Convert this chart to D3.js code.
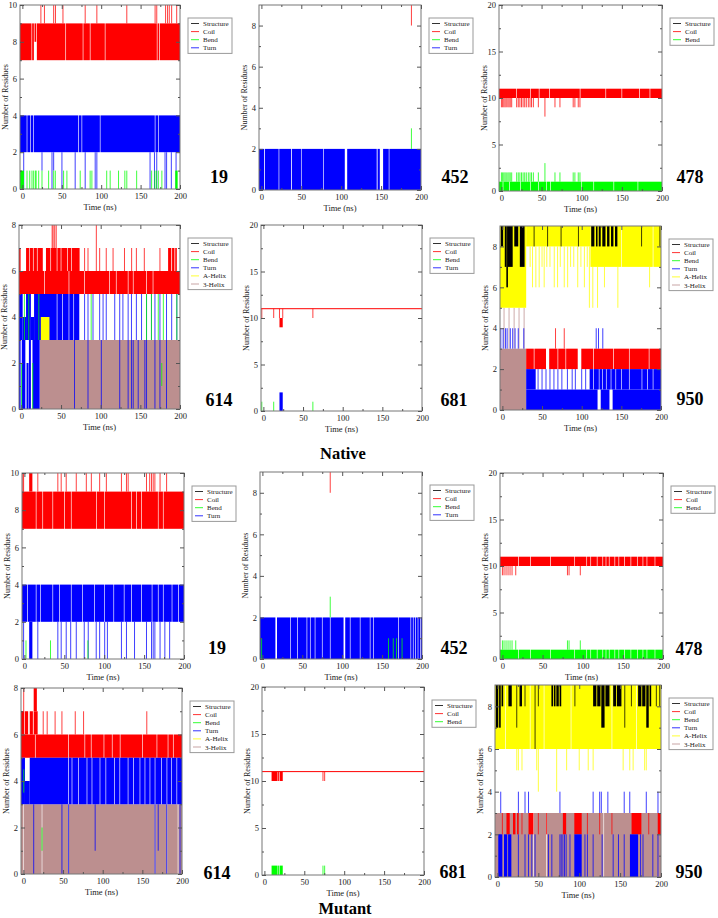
<!DOCTYPE html>
<html><head><meta charset="utf-8">
<script src="https://cdn.jsdelivr.net/npm/d3@7"></script>
<style>
body{margin:0;background:#fff}
svg{display:block}
text{font-family:"Liberation Serif","Times New Roman",serif}
</style>
</head><body>
<svg id="chart" width="718" height="918"></svg>
<script>
// ---------- categories / legend ----------
const seriesNames  = ["Structure","Coil","Bend","Turn","A-Helix","3-Helix"];
const seriesColors = ["#000000","#ff0000","#00ff00","#0000ff","#ffff00","#bc8f8f"];
const drawOrder    = ["3-Helix","Coil","Turn","Bend","A-Helix","Structure"];
const panelIds     = ["19","452","478","614","681","950"];
const groupLabels  = ["Native","Mutant"];
const xTicks       = [0,50,100,150,200];
const xMinorTicks  = [25,75,125,175];
const yMaxes       = [10,9,20,8,20,9];
const yTickSteps   = [2,2,5,2,5,2];
const legendCountsNative = [4,4,3,6,4,6];
const legendCountsMutant = [4,4,3,6,3,6];

// ---------- data: [t0 (ns), t1 (ns), low, high]; t0==t1 is a single-frame excursion ----------
// Native 19
const nat19Coil = [[-3,11.6,7,9],[12.4,14.6,7,9],[15.4,17.6,8,9],[18.4,54.6,7,9],[55.4,76.6,7,9],[77.4,85.6,7,9],[86.4,104.6,7,9],[105.4,170.6,7,9],[171.4,173.6,7,9],[174.4,200,7,9],
 [23.5,23.5,9,10],[28,28,9,10],[39.7,39.7,9,10],[42,42,9,10],[51.5,51.5,9,10],[79.7,79.7,9,10],[94.5,94.5,9,10],[132.5,132.5,9,10],[168.4,168.4,9,10],[170.5,170.5,9,10],[181.7,181.7,9,10],[184.2,184.2,9,10],[186.4,186.4,9,10],[189.4,189.4,9,10],[195.8,195.8,9,10]];
const nat19Turn = [[-3,5.5,2,4],[6.3,9.7,2,4],[10.5,13.9,2,4],[14.7,70.9,2,4],[71.7,75.1,2,4],[75.9,98.3,2,4],[99.1,168,2,4],[168.8,172.1,2,4],[172.9,200,2,4],
 [1.7,1.7,0,2],[79.7,79.7,0,2],[92.4,92.4,0,2],[94.5,94.5,0,2],[162,162,0,2],[181,181,0,2],[183,183,0,2],[195,195,0,2],
 [24.9,24.9,1,2],[37.6,37.6,0,2],[39.7,39.7,1,2],[50.2,50.2,0,2],[67,67,0,2],[167.6,167.6,0,2],[170.5,170.5,0,2],[189,189,0,2]];
const nat19Bend = [[-3,2,0,1],[5.9,5.9,0,1],[9.3,9.3,0,1],[12.2,12.2,0,1],[14.3,14.3,0,1],[16.5,16.5,0,1],[17.5,17.5,0,1],[20.7,20.7,0,1],[24.9,24.9,0,1],[33.3,33.3,0,1],[39.7,39.7,0,1],[41.8,41.8,0,1],[52.3,52.3,0,1],[56.5,56.5,0,1],[73.4,73.4,0,1],[86,86,0,1],[88.2,88.2,0,1],[107,107,0,1],[111.4,111.4,0,1],[122,122,0,1],[130,130,0,1],[132.5,132.5,0,1],[145,145,0,1],[164,164,0,1],[168,168,0,1],[170,170,0,1],[172.5,172.5,0,1],[177,177,0,1],[194,197,0,1]];
// Native 452
const nat452Turn = [[-3,3.3,0,2],[4.3,21.6,0,2],[22.4,37.2,0,2],[38.2,49.6,0,2],[50.4,77.6,0,2],[78.4,104.5,0,2],[107.5,144.5,0,2],[145.6,148.4,0,2],[152.5,159.6,0,2],[160.4,200,0,2]];
const nat452Coil = [[188,188,8,9]];
const nat452Bend = [[188,188,2,3]];
// Native 478
const nat478Coil = [[-3,18.6,10,11],[19.4,35.6,10,11],[36.4,46.6,10,11],[47.4,59.6,10,11],[60.4,97.6,10,11],[98.4,129.6,10,11],[130.4,149.6,10,11],[150.4,171.6,10,11],[172.4,184.6,10,11],[185.4,200,10,11],
 [0,0,9,10],[1.5,1.5,9,10],[3,3,9,10],[4.5,4.5,9,10],[6,6,9,10],[8,8,9,10],[9.5,9.5,9,10],[11,11,9,10],[12.8,12.8,9,10],[19,19,9,10],[21,21,9,10],[23,23,9,10],[25,25,9,10],[27,27,9,10],[29,29,9,10],[31,31,9,10],[33.5,33.5,9,10],[35.6,35.6,9,10],[37.5,37.5,9,10],[39.8,39.8,9,10],[46,46,9,10],[54.2,54.2,8,10],[66.7,66.7,9,10],[72.9,72.9,9,10],[89.4,89.4,9,10],[91.5,91.5,9,10],[95.7,95.7,9,10],[97.8,97.8,9,10]];
const nat478Bend = [[-3,1.6,0,1],[2.4,9.6,0,1],[10.4,23.6,0,1],[24.4,35.6,0,1],[36.4,45.6,0,1],[46.4,55.6,0,1],[56.4,60.6,0,1],[61.4,99.6,0,1],[100.4,114.6,0,1],[115.4,139.6,0,1],[140.4,169.6,0,1],[170.4,200,0,1],
 [0,0,1,2],[1.5,1.5,1,2],[3,3,1,2],[4.5,4.5,1,2],[6,6,1,2],[8,8,1,2],[9.5,9.5,1,2],[11,11,1,2],[12.8,12.8,1,2],[19,19,1,2],[21,21,1,2],[23,23,1,2],[25,25,1,2],[27,27,1,2],[29,29,1,2],[31,31,1,2],[33.5,33.5,1,2],[35.6,35.6,1,2],[37.5,37.5,1,2],[39.8,39.8,1,2],[46,46,1,2],[54.2,54.2,1,3],[66.7,66.7,1,2],[72.9,72.9,1,2],[89.4,89.4,1,2],[91.5,91.5,1,2],[95.7,95.7,1,2],[97.8,97.8,1,2]];
// Native 614
const nat614Helix3 = [[23,200,0,3],[3,3,0,3],[8,8,0,2],[17,17,0,3]];
const nat614Coil = [[-3,28.6,5,6],[29.4,59.6,5,6],[60.4,79.3,5,6],[80.1,110.6,5,6],[111.4,119.2,5,6],[120,134.2,5,6],[135,140.6,5,6],[141.4,157.4,5,6],[158.2,165.6,5,6],[166.4,200,5,6],
 [-3,-1,6,7],[5.9,9.6,6,7],[10.4,14.6,6,7],[15.4,19.6,6,7],[20.4,27,6,7],[31,36.6,6,7],[37.4,44.6,6,7],[45.4,49.6,6,7],[50.4,57.6,6,7],[58.4,62.6,6,7],[63.4,73.4,6,7],
 [79.7,79.7,6,7],[84,84,6,7],[98.7,98.7,6,7],[107,107,6,7],[115.6,115.6,6,7],[130,130,6,7],[139,139,6,7],[145,145,6,7],[155,155,6,7],[174.7,174.7,6,7],[185,189,6,7],[190,193,6,7],[194,196,6,7],
 [38.8,38.8,7,8],[40,40,7,8],[42,42,7,8],[43.9,43.9,7,8],[94.5,94.5,6,8]];
const nat614Turn = [[-3,-1,0,3],[0.5,5,0,3],[6.5,9,0,2],[9.5,12,0,3],[14,23,0,3],
 [-3,1.6,3,5],[1.6,5.9,3,4],[5.9,12,3,5],[12,16,3,4],[16,44.6,3,5],[45.4,51.6,3,5],[52.4,59.6,3,5],[60.4,65.6,3,5],[66.4,73,3,5],
 [79.7,79.7,3,5],[84,84,3,5],[90.3,90.3,3,5],[98.7,98.7,3,5],[103,103,3,5],[107,107,3,5],[117.7,117.7,3,5],[124,124,3,5],[128,128,3,5],[134.6,134.6,3,5],[138.8,138.8,3,5],[145,145,3,5],[151.5,151.5,3,5],[157.8,157.8,3,5],[164,164,3,5],[168.4,168.4,3,5],[174.7,174.7,3,5],[183,183,3,5],[189.5,189.5,3,5],[196,196,3,5],
 [67,67,0,3],[84,84,0,3],[100.8,100.8,0,3],[124,124,0,3],[134.6,134.6,0,3],[138.8,138.8,0,3],[141,141,0,3],[147.3,147.3,0,3],[155.7,155.7,0,3],[157.8,157.8,0,3],[168.4,168.4,0,3],[174.7,174.7,0,3],[183,183,0,3]];
const nat614Bend = [[3.8,3.8,3,5],[9.3,9.3,3,5],[22,22,3,5],[88,88,3,5],[157.8,157.8,3,5],[164,164,3,5],[172.6,172.6,3,5],[179,179,3,5],[196,196,3,5],[0.3,0.3,0,2],[14.3,14.3,0,2],[177,177,1,2]];
const nat614Helix = [[24.5,35.4,3,4]];
// Native 681
const nat681Coil = [[-3,200,11,11],[-2,-2,10,11],[13,13,10,11],[20.3,20.3,10,11],[24.4,24.4,10,11],[20.3,24.4,9,10],[62.4,62.4,10,11]];
const nat681Turn = [[20.3,24.4,0,2]];
const nat681Bend = [[-2,-2,0,1],[13,13,0,1],[62.4,62.4,0,1]];
// Native 950
const nat950Helix3 = [[-3,30,0,3],[2.1,2.1,3,5],[8.4,8.4,3,5],[14.8,14.8,3,5],[21,21,3,5],[27.4,27.4,3,5]];
const nat950Coil = [[30,39.6,2,3],[40.4,55,2,3],[59,69.6,2,3],[70.4,79.6,2,3],[80.4,95,2,3],[99.5,114.6,2,3],[115.4,139.6,2,3],[140.4,159.6,2,3],[160.4,184.6,2,3],[185.4,200,2,3],[67,67,3,4],[78,78,3,4]];
const nat950Turn = [[30,120,0,1],[124,135,0,1],[139,200,0,1],[30,42,1,2],[45,45,1,2],[50,50,1,2],[55,55,1,2],[60,60,1,2],[65,65,1,2],[70,70,1,2],[75,75,1,2],[82,82,1,2],[88,88,1,2],[92,92,1,2],[100,100,1,2],[105,105,1,2],
 [110,114.6,1,2],[115.4,121.6,1,2],[122.4,125.6,1,2],[126.4,130.6,1,2],[131.4,136.6,1,2],[137.4,142.6,1,2],[143.4,149.6,1,2],[150.4,159.6,1,2],[160.4,175.6,1,2],[176.4,182.6,1,2],[183.4,189.6,1,2],[190.4,200,1,2],
 [-2,-2,3,4],[1,1,3,4],[4,4,3,4],[6,6,3,4],[10,10,3,4],[13,13,3,4],[16,16,3,4],[20,20,3,4],[27,27,3,4],[118.3,118.3,3,4],[121.2,121.2,3,4],[126.6,126.6,3,4]];
const nat950Helix = [[-3,30,5,9],[30,111,8,9],[111,149.6,7,9],[150.4,189.6,7,9],[190.4,200,7,9],
 [35,35,7,8],[38,38,6,8],[42.2,42.2,6,8],[46.4,46.4,6,8],[50,50,7,8],[52.7,52.7,6,8],[56,56,7,8],[60,60,7,8],[65.4,65.4,6,8],[69.6,69.6,6,8],[73,73,7,8],[78,78,6,8],[82.3,82.3,6,8],[86,86,7,8],[90,90,7,8],[95,95,6,8],[99,99,7,8],[103.4,103.4,6,8],[107,107,7,8],
 [109.7,109.7,5,8],[114,114,5,7],[120,120,5,7],[128.7,128.7,6,7],[145.6,145.6,5,7],[185.6,185.6,6,7]];
const nat950Struct = [[-2,1,8,9],[3,5,7,9],[5,7,6,9],[7,13,7,9],[15,20,8,9],[22,28,7,9],
 [112,116,8,9],[118,120,8,9],[121.5,124,8,9],[126,130,8,9],[132,135,8,9],[137,140,8,9],[142,145,8,9],
 [40,40,8,9],[57,57,8,9],[74,74,8,9],[95.9,95.9,8,9],[175.5,175.5,8,9],[198.6,198.6,8,9]];
// Mutant 19
const mut19Coil = [[-3,14.3,7,9],[15.1,22.6,7,9],[23.4,35.2,7,9],[36,49.9,7,9],[50.7,58.3,7,9],[59.1,89.8,7,9],[90.6,100.2,7,9],[101,133.8,7,9],[134.6,140.1,7,9],[140.9,146.4,7,9],[147.2,167.3,7,9],[168.1,173.6,7,9],[174.4,200,7,9],
 [6,10,9,10],[-2,-2,9,10],[-1,-1,9,10],[16.8,16.8,9,10],[41.9,41.9,9,10],[46.1,46.1,9,10],[52.4,52.4,9,10],[65,65,9,10],[77.6,77.6,9,10],[83.9,83.9,9,10],[94.3,94.3,9,10],[102.7,102.7,9,10],[121.6,121.6,9,10],[127.9,127.9,9,10],[130,130,9,10],[153,153,9,10],[157,157,9,10],[159.3,159.3,9,10],[161.4,161.4,9,10],[163.5,163.5,9,10],[170,170,9,10],[178.2,178.2,9,10]];
const mut19Turn = [[-3,3.6,2,4],[4.4,14.3,2,4],[15.1,19.6,2,4],[20.4,35.2,2,4],[36,43.6,2,4],[44.4,58.3,2,4],[59.1,72.6,2,4],[73.4,87.6,2,4],[88.4,100.2,2,4],[101,111.6,2,4],[112.4,124.6,2,4],[125.4,133.8,2,4],[134.6,146.4,2,4],[147.2,159.6,2,4],[160.4,167.3,2,4],[168.1,173.6,2,4],[174.4,184.6,2,4],[185.4,192.6,2,4],[193.4,200,2,4],
 [6,10,0,2],[-1,-1,0,2],[65,65,0,2],[100.6,100.6,0,2],[127.9,127.9,0,2],[159.3,159.3,0,2],[161.4,161.4,0,2],
 [16.8,16.8,0,2],[41.9,41.9,0,2],[46.1,46.1,0,2],[52.4,52.4,0,2],[58,58,0,2],[75,75,0,2],[80,80,0,2],[90,90,0,2],[94.3,94.3,0,2],[104,104,0,2],[121.6,121.6,0,2],[138,138,0,2],[153,153,0,2],[163.5,163.5,0,2],[170,170,0,2],[176,176,0,2],[182,182,0,2]];
const mut19Bend = [[2,2,0,1],[32.7,32.7,0,1],[79.6,79.6,0,1]];
// Mutant 452
const mut452Turn = [[-3,16.3,0,2],[18.3,34.6,0,2],[35.4,43.6,0,2],[44.4,55.4,0,2],[56.2,59.6,0,2],[60.4,65.6,0,2],[66.4,74.6,0,2],[75.4,84.6,0,2],[85.4,101.7,0,2],[103.8,109.6,0,2],[110.4,122.1,0,2],[122.9,134.6,0,2],[135.4,138.6,0,2],[139.4,170,0,2],[170.8,185.6,0,2],[186.4,188.6,0,2],[189.4,191.6,0,2],[192.4,194.6,0,2],[195.4,197.6,0,2],[198.4,200,0,2]];
const mut452Coil = [[85,85,8,9]];
const mut452Bend = [[85,85,2,3],[-1,-1,0,1],[158,158,0,1],[164,164,0,1],[168,168,0,1],[175,175,0,1]];
// Mutant 478
const mut478Coil = [[-3,19.6,10,11],[20.4,34.6,10,11],[35.4,59.6,10,11],[60.4,89.6,10,11],[90.4,104.6,10,11],[105.4,109.6,10,11],[110.4,117.6,10,11],[118.4,124.6,10,11],[125.4,128.6,10,11],[129.4,132.6,10,11],[133.4,139.6,10,11],[140.4,144.6,10,11],[145.4,151.6,10,11],[152.4,159.6,10,11],[160.4,167.6,10,11],[168.4,174.6,10,11],[175.4,179.6,10,11],[180.4,189.6,10,11],[190.4,200,10,11],
 [0,0,9,10],[2,2,9,10],[4.5,4.5,9,10],[7,7,9,10],[9.5,9.5,9,10],[12,12,9,10],[16.6,16.6,9,10],[81,81,9,10],[83,83,9,10],[97,97,9,10]];
const mut478Bend = [[-3,19.6,0,1],[20.4,34.6,0,1],[35.4,59.6,0,1],[60.4,89.6,0,1],[90.4,104.6,0,1],[105.4,109.6,0,1],[110.4,117.6,0,1],[118.4,124.6,0,1],[125.4,128.6,0,1],[129.4,132.6,0,1],[133.4,139.6,0,1],[140.4,144.6,0,1],[145.4,151.6,0,1],[152.4,159.6,0,1],[160.4,167.6,0,1],[168.4,174.6,0,1],[175.4,179.6,0,1],[180.4,189.6,0,1],[190.4,200,0,1],
 [0,0,1,2],[2,2,1,2],[4.5,4.5,1,2],[7,7,1,2],[9.5,9.5,1,2],[12,12,1,2],[16.6,16.6,1,2],[81,81,1,2],[83,83,1,2],[97,97,1,2]];
// Mutant 614
const mut614Helix3 = [[-3,0,0,3],[0.8,23.1,0,3],[23.9,56.6,0,3],[57.4,165.6,0,3],[166.4,180.6,0,3],[181.4,194.6,0,3],[195.4,200,0,3]];
const mut614Coil = [[-3,14.6,5,6],[15.4,56.6,5,6],[57.4,77.1,5,6],[77.9,85.1,5,6],[85.9,101.2,5,6],[102,111.6,5,6],[112.4,121.6,5,6],[122.4,149.6,5,6],[150.4,168,5,6],[168.8,182,5,6],[182.8,188.6,5,6],[189.4,200,5,6],
 [-3,1,6,7],[2,6,6,7],[8,12,6,7],[13,18,6,7],[25,25,6,7],[30,30,6,7],[40,40,6,7],[48.6,48.6,6,7],[65.4,65.4,6,7],[75.9,75.9,6,7],[155.6,155.6,6,7],
 [0.4,0.4,6,8],[13,17,7,8]];
const mut614Turn = [[-3,2,3,5],[2,8,3,4],[8,56.6,3,5],[57.4,60.9,3,5],[61.7,69.3,3,5],[70.1,79.8,3,5],[80.6,86.1,3,5],[86.9,96.2,3,5],[97,103.6,3,5],[104.4,114.6,3,5],[115.4,121.2,3,5],[122,131.6,3,5],[132.4,138.4,3,5],[139.2,146.6,3,5],[147.4,152.9,3,5],[153.7,159.2,3,5],[160,165.6,3,5],[166.4,173.6,3,5],[174.4,180.6,3,5],[181.4,186.6,3,5],[187.4,193.1,3,5],[193.9,200,3,5],
 [13,13,0,3],[48.6,48.6,0,3],[57,57,0,3],[90.5,90.5,1,3],[166,166,0,3],[170,170,1,3],[180.7,180.7,0,3],[197.5,197.5,0,3]];
const mut614Bend = [[0.5,0.5,3.5,4.5],[23.5,23.5,1,2]];
// Mutant 681
const mut681Coil = [[-3,200,11,11],[9,16.5,10,11],[17.2,18.8,10,11],[19.5,23,10,11],[73.4,73.4,10,11],[75.5,75.5,10,11]];
const mut681Bend = [[9,16.5,0,1],[17.2,18.8,0,1],[19.5,23,0,1],[73.4,73.4,0,1],[75.5,75.5,0,1]];
// Mutant 950
const mut950Helix3 = [[-3,43.6,0,3],[44.4,59.6,0,3],[60.4,129.6,0,3],[130.4,200,0,3]];
const mut950Helix = [[-3,9.6,6,9],[10.4,39.6,6,9],[40.4,56.6,6,9],[57.4,89.6,6,9],[90.4,139.6,6,9],[140.4,169.6,6,9],[170.4,200,6,9],
 [23.6,23.6,5,6],[25.6,25.6,5,6],[30,30,5,6],[48,48,5,6],[84.6,84.6,5,6],[100,100,5,6],[111,111,5,6],[117,117,5,6],[153.7,153.7,5,6],[161.8,161.8,5,6],[165.9,165.9,5,6],[180,180,5,6],[182,182,5,6],[50,50,4,6],[72.4,72.4,4,6]];
const mut950Struct = [[-2,1,7,9],[2,4,7,9],[5,7,8,9],[13.4,17.5,8,9],[23.6,23.6,7,9],[27,30,8,9],[33.7,33.7,8,9],[46,46,6,9],[50,50,8,9],
 [66,68,8,9],[69,71,8,9],[72,75,8,9],[76,78,8,9],[94.7,94.7,8,9],[117,121,8,9],[122,126,8,9],[127,131,7,9],[132,137,8,9],[141.5,145,8,9],[146,151.6,8,9],[155.7,155.7,7,9],[163.8,163.8,8,9],[172,176,8,9],[177,181,8,9],[182,185,7,9],[186,188,8,9],[194.3,194.3,8,9],[198.4,198.4,8,9]];
const mut950Coil = [[11,15,2,3],[19,22,2,3],[24,26,2,3],[38,44,2,3],[80,84,2,3],[94,103,2,3],[164,176,2,3],[196,200,2,3],[6,6,2,3],[30,30,2,3],[50,50,2,3],[60,60,2,3],[110,110,2,3],[125,125,2,3],[140,140,2,3],[185,185,2,3]];
const mut950Turn = [[1,6,0,2],[8,12,0,2],[13,17,0,2],[94,103,0,2],[162,172,0,2],
 [3,3,0,2],[25.6,25.6,0,2],[33.7,33.7,0,2],[38,38,0,2],[42,42,0,2],[46,46,0,2],[62.4,62.4,0,2],[66.5,66.5,0,2],[76.4,76.4,0,2],[78,78,0,2],[80,80,0,2],[82,82,0,2],[84,84,0,2],[88.7,88.7,0,2],[107,107,0,2],[110,110,0,2],[117,117,0,2],[128,128,0,2],[141.5,141.5,0,2],[148,148,0,2],[155,155,0,2],[175,175,0,2],[178,178,0,2],[190,190,0,2],[196.3,196.3,0,2],
 [4,4,3,4],[25.6,25.6,3,4],[33.7,33.7,3,4],[38,38,3,4],[76.4,76.4,3,4],[117,117,3,4],[125,125,3,4],[127,127,3,4],[135,135,3,4],[155,155,3,4],[161.8,161.8,3,4],[182,182,3,4],[196.3,196.3,3,4]];

// ---------- table built from the arrays ----------
const panels = [
 {id:panelIds[0], yMax:yMaxes[0], step:yTickSteps[0], nLeg:legendCountsNative[0], s:{"Coil":nat19Coil,"Turn":nat19Turn,"Bend":nat19Bend}},
 {id:panelIds[1], yMax:yMaxes[1], step:yTickSteps[1], nLeg:legendCountsNative[1], s:{"Coil":nat452Coil,"Turn":nat452Turn,"Bend":nat452Bend}},
 {id:panelIds[2], yMax:yMaxes[2], step:yTickSteps[2], nLeg:legendCountsNative[2], s:{"Coil":nat478Coil,"Bend":nat478Bend}},
 {id:panelIds[3], yMax:yMaxes[3], step:yTickSteps[3], nLeg:legendCountsNative[3], s:{"3-Helix":nat614Helix3,"Coil":nat614Coil,"Turn":nat614Turn,"Bend":nat614Bend,"A-Helix":nat614Helix}},
 {id:panelIds[4], yMax:yMaxes[4], step:yTickSteps[4], nLeg:legendCountsNative[4], s:{"Coil":nat681Coil,"Turn":nat681Turn,"Bend":nat681Bend}},
 {id:panelIds[5], yMax:yMaxes[5], step:yTickSteps[5], nLeg:legendCountsNative[5], s:{"3-Helix":nat950Helix3,"Coil":nat950Coil,"Turn":nat950Turn,"A-Helix":nat950Helix,"Structure":nat950Struct}},
 {id:panelIds[0], yMax:yMaxes[0], step:yTickSteps[0], nLeg:legendCountsMutant[0], s:{"Coil":mut19Coil,"Turn":mut19Turn,"Bend":mut19Bend}},
 {id:panelIds[1], yMax:yMaxes[1], step:yTickSteps[1], nLeg:legendCountsMutant[1], s:{"Coil":mut452Coil,"Turn":mut452Turn,"Bend":mut452Bend}},
 {id:panelIds[2], yMax:yMaxes[2], step:yTickSteps[2], nLeg:legendCountsMutant[2], s:{"Coil":mut478Coil,"Bend":mut478Bend}},
 {id:panelIds[3], yMax:yMaxes[3], step:yTickSteps[3], nLeg:legendCountsMutant[3], s:{"3-Helix":mut614Helix3,"Coil":mut614Coil,"Turn":mut614Turn,"Bend":mut614Bend}},
 {id:panelIds[4], yMax:yMaxes[4], step:yTickSteps[4], nLeg:legendCountsMutant[4], s:{"Coil":mut681Coil,"Bend":mut681Bend}},
 {id:panelIds[5], yMax:yMaxes[5], step:yTickSteps[5], nLeg:legendCountsMutant[5], s:{"3-Helix":mut950Helix3,"Coil":mut950Coil,"Turn":mut950Turn,"A-Helix":mut950Helix,"Structure":mut950Struct}}
];

// ---------- layout ----------
const boxes = [
 [20,5,180,189],[259,5,421,190],[499,5,662,191],
 [19,225,180,409],[261,225,422,411],[500,226,661,410],
 [22,473,184,659],[260,472,422,659],[500,473,663,659],
 [21,688,182,874],[262,687,424,875],[495,685,661,877]
];
const numPos = [[219,183],[455,183],[690,183],[219,406],[454,406],[690,405],
                [217,654],[454,654],[689,655],[217,879],[453,878],[689,878]];
const groupPos = [[343,459],[345,913.5]];
const colorOf = n => seriesColors[seriesNames.indexOf(n)];

const svg = d3.select("#chart");

panels.forEach((p, i) => {
  const [x0,y0,x1,y1] = boxes[i];
  const x = d3.scaleLinear().domain([-3,200]).range([x0,x1]);
  const y = d3.scaleLinear().domain([0,p.yMax]).range([y1,y0]);
  const g = svg.append("g");
  const cid = "clip"+i;
  g.append("clipPath").attr("id",cid).append("rect")
    .attr("x",x0).attr("y",y0).attr("width",x1-x0).attr("height",y1-y0);
  const plot = g.append("g").attr("clip-path",`url(#${cid})`);

  drawOrder.forEach(name => {
    const segs = p.s[name];
    if (!segs) return;
    plot.append("g").selectAll("rect").data(segs).join("rect")
      .attr("x", d => d[1] > d[0] ? x(d[0]) : x(d[0]) - 0.5)
      .attr("width", d => d[1] > d[0] ? x(d[1]) - x(d[0]) : 1)
      .attr("y", d => d[3] > d[2] ? y(d[3]) : y(d[3]) - 0.5)
      .attr("height", d => d[3] > d[2] ? y(d[2]) - y(d[3]) : 1)
      .attr("fill", colorOf(name))
      .attr("opacity", d => (d[1] > d[0]) ? 1 : 0.75);
  });

  // frame
  g.append("rect").attr("x",x0).attr("y",y0).attr("width",x1-x0).attr("height",y1-y0)
    .attr("fill","none").attr("stroke","#777").attr("stroke-width",1);

  const yMaj = d3.range(0, p.yMax + 0.001, p.step);
  const yMin = d3.range(p.step/2, p.yMax, p.step);
  const styleAxis = sel => {
    sel.select(".domain").remove();
    sel.selectAll("line").attr("stroke","#555");
    sel.selectAll("text").attr("font-size","8.5px").attr("fill","#222")
       .attr("font-family","'Liberation Serif',serif");
  };
  g.append("g").attr("transform",`translate(0,${y1})`)
    .call(d3.axisBottom(x).tickValues(xTicks).tickSize(-4).tickPadding(4).tickFormat(d3.format("d"))).call(styleAxis);
  g.append("g").attr("transform",`translate(0,${y1})`)
    .call(d3.axisBottom(x).tickValues(xMinorTicks).tickSize(-2).tickFormat("")).call(styleAxis);
  g.append("g").attr("transform",`translate(0,${y0})`)
    .call(d3.axisTop(x).tickValues(xTicks).tickSize(-4).tickFormat("")).call(styleAxis);
  g.append("g").attr("transform",`translate(0,${y0})`)
    .call(d3.axisTop(x).tickValues(xMinorTicks).tickSize(-2).tickFormat("")).call(styleAxis);
  g.append("g").attr("transform",`translate(${x0},0)`)
    .call(d3.axisLeft(y).tickValues(yMaj).tickSize(-4).tickPadding(3).tickFormat(d3.format("d"))).call(styleAxis);
  g.append("g").attr("transform",`translate(${x0},0)`)
    .call(d3.axisLeft(y).tickValues(yMin).tickSize(-2).tickFormat("")).call(styleAxis);
  g.append("g").attr("transform",`translate(${x1},0)`)
    .call(d3.axisRight(y).tickValues(yMaj).tickSize(-4).tickFormat("")).call(styleAxis);
  g.append("g").attr("transform",`translate(${x1},0)`)
    .call(d3.axisRight(y).tickValues(yMin).tickSize(-2).tickFormat("")).call(styleAxis);

  // axis titles
  g.append("text").attr("x",(x0+x1)/2).attr("y",y1+21).attr("text-anchor","middle")
    .attr("font-size","8.5px").attr("fill","#222").text("Time (ns)");
  g.append("text").attr("transform",`translate(${x0-12},${(y0+y1)/2}) rotate(-90)`)
    .attr("text-anchor","middle").attr("font-size","8px").attr("fill","#222").text("Number of Residues");

  // legend
  const sp = 8.1;
  const lx = x1 + 8, ly = y0 + 13, lw = 44, lh = p.nLeg*sp + 3;
  const lg = g.append("g");
  lg.append("rect").attr("x",lx).attr("y",ly).attr("width",lw).attr("height",lh)
    .attr("fill","#fff").attr("stroke","#999").attr("stroke-width",1);
  seriesNames.slice(0,p.nLeg).forEach((n,k) => {
    const yy = ly + 5.5 + k*sp;
    lg.append("line").attr("x1",lx+3).attr("x2",lx+11).attr("y1",yy).attr("y2",yy)
      .attr("stroke",seriesColors[k]).attr("stroke-width",1).attr("opacity",0.8);
    lg.append("text").attr("x",lx+15).attr("y",yy+2.5).attr("font-size","7px").attr("fill","#222").text(n);
  });

  // residue number
  svg.append("text").attr("x",numPos[i][0]).attr("y",numPos[i][1]).attr("text-anchor","middle")
    .attr("font-size","18px").attr("font-weight","bold").attr("fill","#000").text(p.id);
});

groupLabels.forEach((t,k) => {
  svg.append("text").attr("x",groupPos[k][0]).attr("y",groupPos[k][1]).attr("text-anchor","middle")
    .attr("font-size","16.5px").attr("font-weight","bold").attr("fill","#000").text(t);
});
</script>
</body></html>
